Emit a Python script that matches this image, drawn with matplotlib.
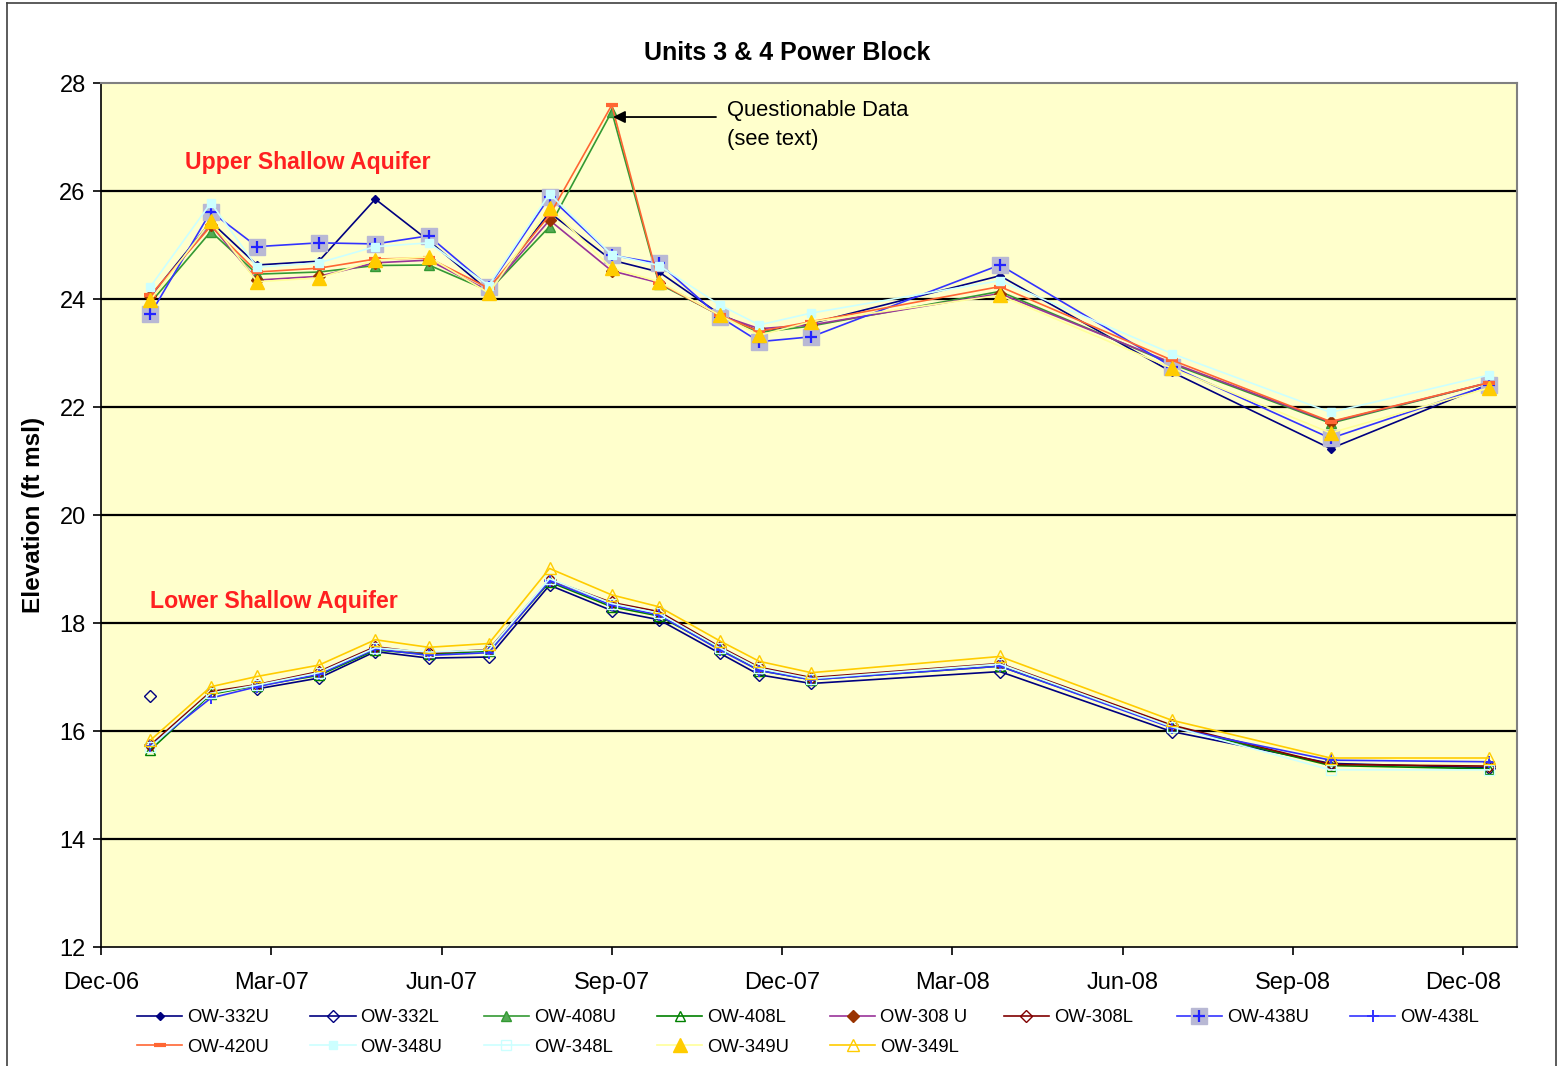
import calendar
import matplotlib
matplotlib.use("Agg")
import matplotlib.pyplot as plt
from matplotlib.lines import Line2D
from matplotlib.legend_handler import HandlerTuple
import numpy as np

plt.rcParams['font.family'] = ['Liberation Sans', 'DejaVu Sans']

# Sampling dates (shared by all wells)
dates = ["2006-12-28", "2007-01-30", "2007-02-22", "2007-03-27", "2007-04-26",
         "2007-05-25", "2007-06-26", "2007-07-29", "2007-09-01", "2007-09-26",
         "2007-10-29", "2007-11-19", "2007-12-17", "2008-03-27", "2008-06-27",
         "2008-09-21", "2008-12-15"]

tick_labels = ["Dec-06", "Mar-07", "Jun-07", "Sep-07", "Dec-07",
               "Mar-08", "Jun-08", "Sep-08", "Dec-08"]

nan = np.nan

# Upper shallow aquifer wells (ft msl)
ow_332u = [24.05, 25.43, 24.63, 24.70, 25.85, 25.08, 24.15, 25.60, 24.72, 24.50,
           23.72, 23.40, 23.55, 24.43, 22.65, 21.23, 22.42]
ow_408u = [23.93, 25.25, 24.46, 24.50, 24.62, 24.63, 24.15, 25.34, 27.47, 24.28,
           23.70, 23.38, 23.50, 24.14, 22.80, 21.70, 22.45]
ow_308u = [24.05, 25.37, 24.35, 24.42, 24.67, 24.72, 24.15, 25.46, 24.52, 24.30,
           23.70, 23.45, 23.52, 24.10, 22.82, 21.72, 22.45]
ow_438u = [23.72, 25.62, 24.97, 25.04, 25.02, 25.17, 24.23, 25.89, 24.81, 24.66,
           23.67, 23.21, 23.30, 24.63, 22.75, 21.42, 22.40]
ow_420u = [24.07, 25.35, 24.50, 24.57, 24.74, 24.76, 24.20, 25.55, 27.59, 24.30,
           23.70, 23.40, 23.58, 24.23, 22.87, 21.73, 22.45]
ow_348u = [24.23, 25.78, 24.59, 24.67, 24.97, 25.04, 24.25, 25.95, 24.82, 24.62,
           23.89, 23.52, 23.74, 24.34, 22.99, 21.90, 22.59]
ow_349u = [23.98, 25.44, 24.32, 24.39, 24.72, 24.78, 24.11, 25.69, 24.57, 24.32,
           23.70, 23.33, 23.58, 24.07, 22.72, 21.52, 22.35]

# Lower shallow aquifer wells (ft msl)
ow_332l = [16.64, nan, 16.78, 16.98, 17.47, 17.35, 17.37, 18.70, 18.23, 18.06,
           17.44, 17.04, 16.88, 17.10, 15.99, 15.40, 15.32]
ow_408l = [15.65, 16.68, 16.84, 17.03, 17.50, 17.42, 17.48, 18.76, 18.30, 18.13,
           17.52, 17.12, 16.95, 17.20, 16.08, 15.36, 15.30]
ow_308l = [15.74, 16.73, 16.86, 17.10, 17.56, 17.44, 17.51, 18.80, 18.38, 18.21,
           17.56, 17.18, 16.99, 17.25, 16.11, 15.38, 15.35]
ow_438l = [15.72, 16.61, 16.82, 17.05, 17.52, 17.40, 17.45, 18.78, 18.33, 18.15,
           17.50, 17.12, 16.95, 17.20, 16.06, 15.46, 15.43]
ow_348l = [15.70, 16.70, 16.85, 17.08, 17.54, 17.46, 17.50, 18.82, 18.36, 18.18,
           17.54, 17.16, 16.97, 17.24, 16.08, 15.28, 15.28]
ow_349l = [15.83, 16.82, 17.01, 17.22, 17.69, 17.55, 17.62, 19.01, 18.52, 18.30,
           17.67, 17.29, 17.08, 17.38, 16.20, 15.50, 15.50]


def month_index(s):
    """Fractional months elapsed since 1 Dec 2006."""
    y, m, d = (int(v) for v in s.split("-"))
    dim = calendar.monthrange(y, m)[1]
    return (y - 2006) * 12 + (m - 12) + (d - 1) / dim


x = np.array([month_index(d) for d in dates])

W, H = 1560, 1066
fig = plt.figure(figsize=(W / 100, H / 100), dpi=100)
fig.patch.set_facecolor("white")
ax = fig.add_axes([101 / W, 1 - 947 / H, (1517 - 101) / W, (947 - 83) / H])
ax.set_facecolor("#FFFFCC")

lw = 1.2
handles = {}


def draw(name, vals, color, marker, ms, mfc, mec=None, mew=1.0, z=2):
    ln, = ax.plot(x, vals, color=color, lw=lw, marker=marker, ms=ms,
                  mfc=mfc, mec=mec if mec else color, mew=mew, zorder=z)
    handles[name] = ln
    return ln


z = 3
draw("OW-332U", ow_332u, "#000080", "D", 4.5, "#000080", z=z); z += 0.01
draw("OW-332L", ow_332l, "#000080", "D", 6, "none", z=z); z += 0.01
draw("OW-408U", ow_408u, "#339933", "^", 7.5, "#55AA55", "#339933", z=z); z += 0.01
draw("OW-408L", ow_408l, "#008000", "^", 7, "none", z=z); z += 0.01
draw("OW-308 U", ow_308u, "#993399", "D", 6, "#993300", "#993300", z=z); z += 0.01
draw("OW-308L", ow_308l, "#800000", "D", 6, "none", z=z); z += 0.01
sq = draw("OW-438U", ow_438u, "#3333FF", "s", 11, "#B8B8D4", "#B8B8D4", z=z); z += 0.01
pl, = ax.plot(x, ow_438u, ls="none", marker="+", ms=9, mew=1.6,
              color="#2222FF", zorder=z)
z += 0.01
handles["OW-438U"] = (sq, pl)
draw("OW-438L", ow_438l, "#3333FF", "+", 9, "#3333FF", mew=1.4, z=z); z += 0.01
draw("OW-420U", ow_420u, "#FF6633", "_", 8, "#FF6633", mew=3, z=z); z += 0.01
draw("OW-348U", ow_348u, "#CCFFFF", "s", 6, "#CCFFFF", z=z); z += 0.01
draw("OW-348L", ow_348l, "#CCFFFF", "s", 7, "none", z=z); z += 0.01
draw("OW-349U", ow_349u, "#FFFF99", "^", 9.5, "#FFCC00", "#FFCC00", z=z); z += 0.01
draw("OW-349L", ow_349l, "#FFCC00", "^", 8, "none", z=z); z += 0.01

# Axes, grid and frame
ax.set_xlim(0, (1517 - 101) / 56.75)
ax.set_ylim(12, 28)
ax.set_yticks(np.arange(12, 29, 2))
ax.set_xticks(np.arange(0, 25, 3))
ax.set_xticklabels(tick_labels)
ax.tick_params(axis="both", labelsize=17, colors="black", length=6,
               width=1.2, direction="out")
ax.tick_params(axis="x", pad=12)
ax.tick_params(axis="y", pad=5)
for yv in range(14, 28, 2):
    ax.axhline(yv, color="black", lw=1.6, zorder=1)
for side in ("top", "right"):
    ax.spines[side].set_color("#808080")
    ax.spines[side].set_linewidth(1.5)
for side in ("left", "bottom"):
    ax.spines[side].set_color("black")
    ax.spines[side].set_linewidth(1.2)

ax.set_ylabel("Elevation (ft msl)", fontsize=17.5, fontweight="bold", labelpad=10)
fig.text(787 / W, 1 - 53 / H, "Units 3 & 4 Power Block", fontsize=18,
         fontweight="bold", ha="center", va="center")

ax.text((185 - 101) / 56.75, 26.52, "Upper Shallow Aquifer", color="#FF2020",
        fontsize=16.6, fontweight="bold", ha="left", va="center", zorder=10)
ax.text((150 - 101) / 56.75, 18.39, "Lower Shallow Aquifer", color="#FF2020",
        fontsize=16.7, fontweight="bold", ha="left", va="center", zorder=10)

ax.annotate("", xy=((613 - 101) / 56.75, 27.37), xytext=((716 - 101) / 56.75, 27.37),
            arrowprops=dict(arrowstyle="-|>", color="black", lw=1.3,
                            mutation_scale=18, shrinkA=0, shrinkB=0), zorder=10)
ax.text((727 - 101) / 56.75, 27.22, "Questionable Data\n(see text)", fontsize=15.8,
        ha="left", va="center", linespacing=1.5, zorder=10)

# Legend, laid out on a fixed grid of entries
order = [["OW-332U", "OW-332L", "OW-408U", "OW-408L",
          "OW-308 U", "OW-308L", "OW-438U", "OW-438L"],
         ["OW-420U", "OW-348U", "OW-348L", "OW-349U", "OW-349L"]]
row_y = [1018, 1047]
for r, row in enumerate(order):
    for c, name in enumerate(row):
        xp = 137 + c * 173.3
        fig.legend([handles[name]], [name], loc="center left",
                   bbox_to_anchor=(xp / W, 1 - row_y[r] / H),
                   frameon=False, fontsize=13.3, handlelength=2.45,
                   handletextpad=0.27, borderpad=0, borderaxespad=0,
                   handler_map={tuple: HandlerTuple(ndivide=1)})

# Outer chart border
def fig_line(xs, ys):
    fig.add_artist(Line2D([v / W for v in xs], [1 - v / H for v in ys],
                          color="#404040", lw=1.2, transform=fig.transFigure))

fig_line([7, 1556], [3, 3])
fig_line([7, 7], [3, 1066])
fig_line([1556, 1556], [3, 1066])

fig.savefig("out.png", dpi=100, facecolor="white")
